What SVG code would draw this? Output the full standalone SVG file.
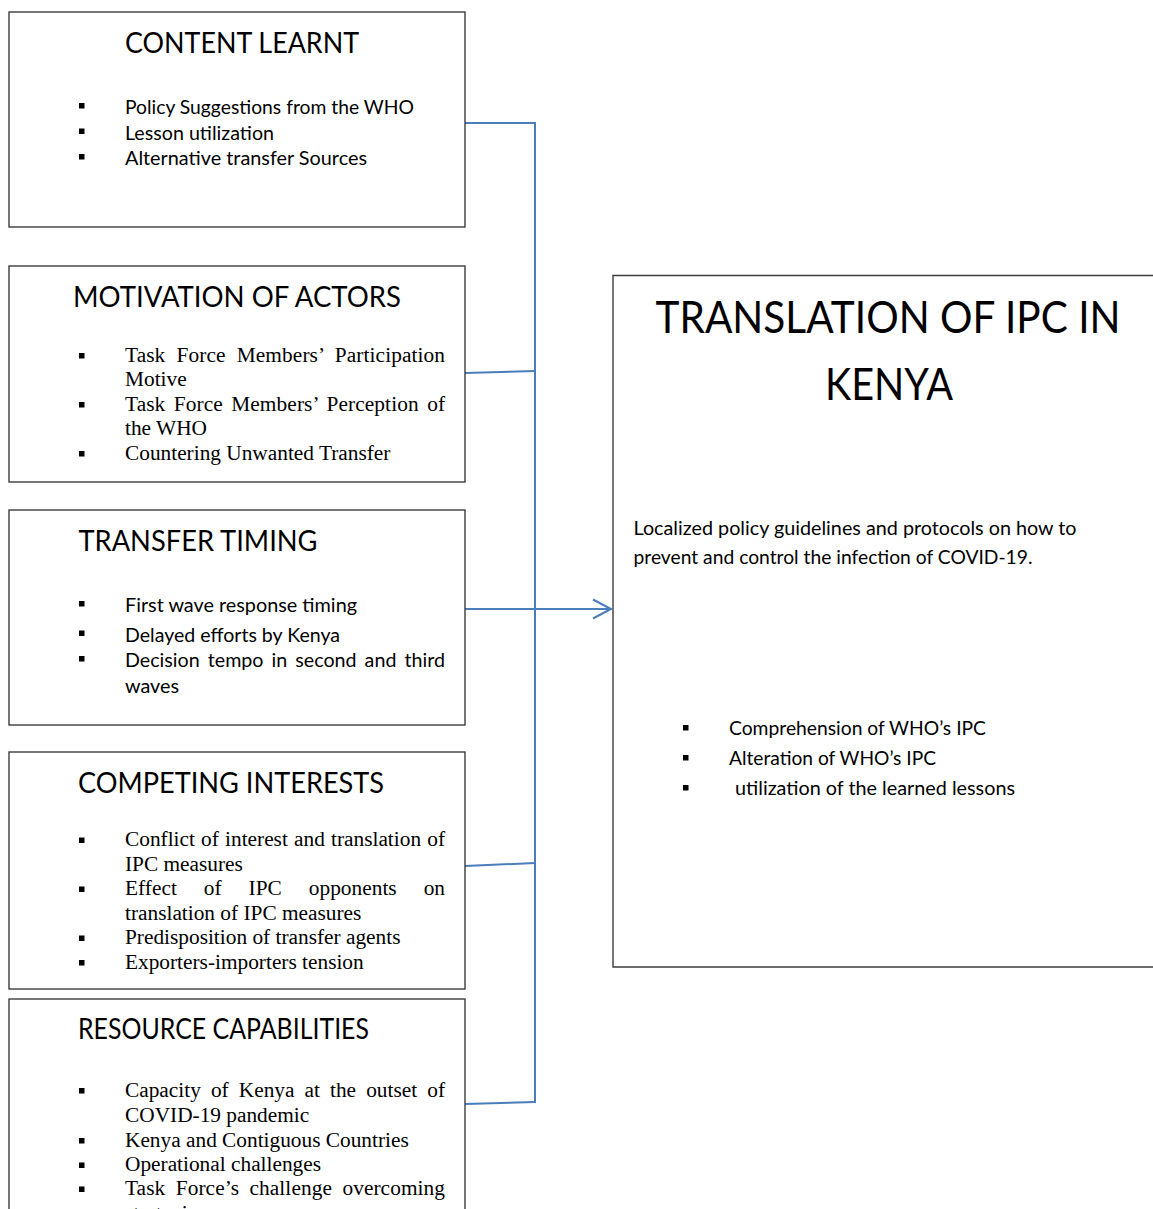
<svg xmlns="http://www.w3.org/2000/svg" width="1153" height="1209" viewBox="0 0 1153 1209">
  <style>
    .box { fill: #ffffff; stroke: #3d3d3d; stroke-width: 1.4; }
    .hd { font-family: Lato, "Open Sans", "Liberation Sans", sans-serif; font-size: 29.5px; fill: #000; }
    .big { font-family: Lato, "Open Sans", "Liberation Sans", sans-serif; font-size: 44px; fill: #000; }
    .sn { font-family: Lato, "Open Sans", "Liberation Sans", sans-serif; font-size: 19.6px; fill: #000; }
    .sr { font-family: "Liberation Serif", "Times New Roman", serif; font-size: 21.33px; fill: #000; }
    .bl { fill: #000; }
    .link { fill: none; stroke: #4a7ebb; stroke-width: 2; }
  </style>
  <defs>
    <rect id="sq" class="bl" width="5.5" height="5.5"/>
    <marker id="open-arrow" markerUnits="userSpaceOnUse" markerWidth="22" markerHeight="24" refX="19" refY="11" orient="auto">
      <path d="M1,1.5 L19,11 L1,20.5" fill="none" stroke="#4a7ebb" stroke-width="2"/>
    </marker>
  </defs>

  <rect width="1153" height="1209" fill="#ffffff"/>

  <!-- connectors -->
  <g id="connectors">
    <path class="link" d="M465,123 L535,123 L535,1103"/>
    <path class="link" d="M465,373 L535,371"/>
    <path class="link" d="M465,609 L611,609" marker-end="url(#open-arrow)"/>
    <path class="link" d="M465,866 L535,863"/>
    <path class="link" d="M465,1104 L535,1102"/>
  </g>

  <!-- content learnt -->
  <g id="content-learnt">
    <rect class="box" x="9" y="12" width="456" height="215"/>
    <text class="hd" x="125" y="53" textLength="234" lengthAdjust="spacingAndGlyphs">CONTENT LEARNT</text>
    <use href="#sq" x="79" y="103"/>
    <text class="sn" x="125" y="114" textLength="289" lengthAdjust="spacingAndGlyphs">Policy Suggestions from the WHO</text>
    <use href="#sq" x="79" y="128.5"/>
    <text class="sn" x="125" y="139.5" textLength="149" lengthAdjust="spacingAndGlyphs">Lesson utilization</text>
    <use href="#sq" x="79" y="154"/>
    <text class="sn" x="125" y="165" textLength="242" lengthAdjust="spacingAndGlyphs">Alternative transfer Sources</text>
  </g>

  <!-- motivation of actors -->
  <g id="motivation-of-actors">
    <rect class="box" x="9" y="266" width="456" height="216"/>
    <text class="hd" x="73" y="307" textLength="328" lengthAdjust="spacingAndGlyphs">MOTIVATION OF ACTORS</text>
    <use href="#sq" x="79" y="353"/>
    <text class="sr" x="125" y="361.5" word-spacing="5.7" textLength="320" lengthAdjust="spacing">Task Force Members’ Participation</text>
    <text class="sr" x="125" y="386">Motive</text>
    <use href="#sq" x="79" y="402"/>
    <text class="sr" x="125" y="410.5" word-spacing="3" textLength="320" lengthAdjust="spacing">Task Force Members’ Perception of</text>
    <text class="sr" x="125" y="435">the WHO</text>
    <use href="#sq" x="79" y="451"/>
    <text class="sr" x="125" y="459.5">Countering Unwanted Transfer</text>
  </g>

  <!-- transfer timing -->
  <g id="transfer-timing">
    <rect class="box" x="9" y="510" width="456" height="215"/>
    <text class="hd" x="78.5" y="551" textLength="239" lengthAdjust="spacingAndGlyphs">TRANSFER TIMING</text>
    <use href="#sq" x="79" y="601"/>
    <text class="sn" x="125" y="612" textLength="232" lengthAdjust="spacingAndGlyphs">First wave response timing</text>
    <use href="#sq" x="79" y="630.5"/>
    <text class="sn" x="125" y="641.5" textLength="215" lengthAdjust="spacingAndGlyphs">Delayed efforts by Kenya</text>
    <use href="#sq" x="79" y="656"/>
    <text class="sn" x="125" y="667" word-spacing="3" textLength="320" lengthAdjust="spacingAndGlyphs">Decision tempo in second and third</text>
    <text class="sn" x="125" y="693" textLength="54" lengthAdjust="spacingAndGlyphs">waves</text>
  </g>

  <!-- competing interests -->
  <g id="competing-interests">
    <rect class="box" x="9" y="752" width="456" height="237"/>
    <text class="hd" x="78" y="792.5" textLength="306" lengthAdjust="spacingAndGlyphs">COMPETING INTERESTS</text>
    <use href="#sq" x="79" y="837.5"/>
    <text class="sr" x="125" y="846" word-spacing="0.8" textLength="320" lengthAdjust="spacing">Conflict of interest and translation of</text>
    <text class="sr" x="125" y="870.5">IPC measures</text>
    <use href="#sq" x="79" y="886.5"/>
    <text class="sr" x="125" y="895" word-spacing="21.6" textLength="320" lengthAdjust="spacing">Effect of IPC opponents on</text>
    <text class="sr" x="125" y="919.5">translation of IPC measures</text>
    <use href="#sq" x="79" y="935.5"/>
    <text class="sr" x="125" y="944">Predisposition of transfer agents</text>
    <use href="#sq" x="79" y="960"/>
    <text class="sr" x="125" y="968.5">Exporters-importers tension</text>
  </g>

  <!-- resource capabilities (runs past the bottom edge) -->
  <g id="resource-capabilities">
    <rect class="box" x="9" y="999" width="456" height="240"/>
    <text class="hd" x="78" y="1039" font-size="27" textLength="291" lengthAdjust="spacingAndGlyphs">RESOURCE CAPABILITIES</text>
    <use href="#sq" x="79" y="1088"/>
    <text class="sr" x="125" y="1096.5" word-spacing="4.75" textLength="320" lengthAdjust="spacing">Capacity of Kenya at the outset of</text>
    <text class="sr" x="125" y="1121.5">COVID-19 pandemic</text>
    <use href="#sq" x="79" y="1138"/>
    <text class="sr" x="125" y="1146.5">Kenya and Contiguous Countries</text>
    <use href="#sq" x="79" y="1162.5"/>
    <text class="sr" x="125" y="1171">Operational challenges</text>
    <use href="#sq" x="79" y="1186.5"/>
    <text class="sr" x="125" y="1195" word-spacing="5" textLength="320" lengthAdjust="spacing">Task Force’s challenge overcoming</text>
    <text class="sr" x="125" y="1220">strategies</text>
  </g>

  <!-- translation of IPC in Kenya (right side open at the edge) -->
  <g id="translation-of-ipc">
    <path class="box" d="M1153,275.5 H613 V967 H1153"/>
    <text class="big" x="888" y="333" text-anchor="middle" textLength="465" lengthAdjust="spacingAndGlyphs">TRANSLATION OF IPC IN</text>
    <text class="big" x="889" y="400" text-anchor="middle" textLength="128" lengthAdjust="spacingAndGlyphs">KENYA</text>
    <text class="sn" x="633.5" y="535" textLength="443" lengthAdjust="spacingAndGlyphs">Localized policy guidelines and protocols on how to</text>
    <text class="sn" x="633.5" y="564" textLength="399" lengthAdjust="spacingAndGlyphs">prevent and control the infection of COVID-19.</text>
    <use href="#sq" x="683" y="725"/>
    <text class="sn" x="729" y="735" textLength="257" lengthAdjust="spacingAndGlyphs">Comprehension of WHO’s IPC</text>
    <use href="#sq" x="683" y="755"/>
    <text class="sn" x="729" y="765" textLength="207" lengthAdjust="spacingAndGlyphs">Alteration of WHO’s IPC</text>
    <use href="#sq" x="683" y="785"/>
    <text class="sn" x="735" y="795" textLength="280" lengthAdjust="spacingAndGlyphs">utilization of the learned lessons</text>
  </g>
</svg>
